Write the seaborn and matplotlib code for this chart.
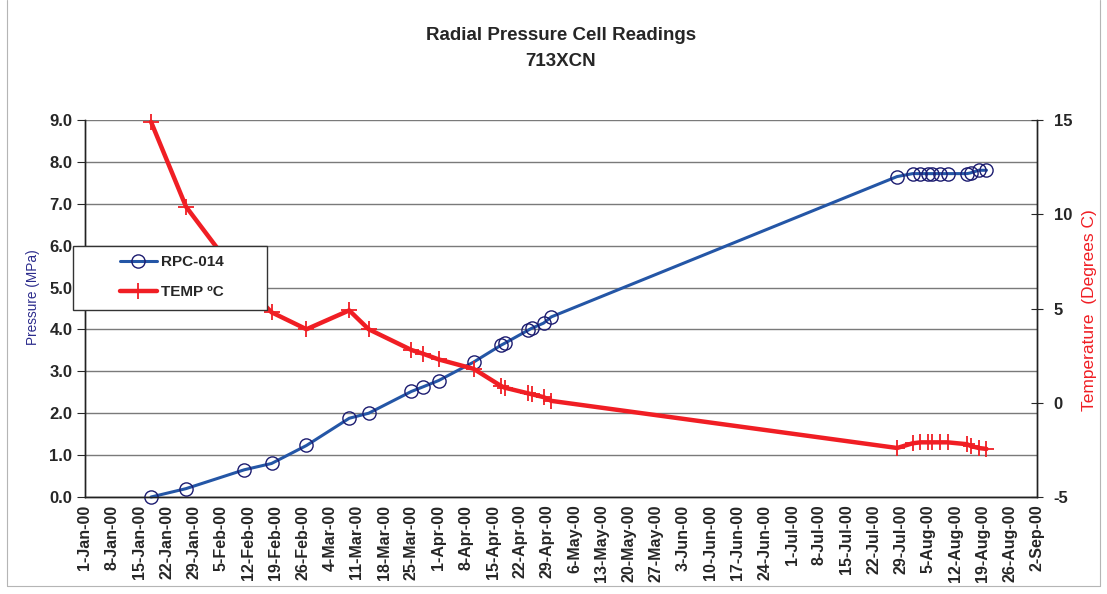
import matplotlib
matplotlib.use("Agg")
import matplotlib.pyplot as plt
import matplotlib.dates as mdates
from matplotlib.ticker import FuncFormatter
from matplotlib.patches import Rectangle
from matplotlib.lines import Line2D
import seaborn as sns
import pandas as pd

# ---------------- data ----------------
reading_dates = ["2000-01-18", "2000-01-27", "2000-02-11", "2000-02-18", "2000-02-27",
                 "2000-03-09", "2000-03-14", "2000-03-25", "2000-03-28", "2000-04-01",
                 "2000-04-10", "2000-04-17", "2000-04-18", "2000-04-24", "2000-04-25",
                 "2000-04-28", "2000-04-30", "2000-07-28", "2000-08-01", "2000-08-03",
                 "2000-08-05", "2000-08-06", "2000-08-08", "2000-08-10", "2000-08-15",
                 "2000-08-16", "2000-08-18", "2000-08-20"]
pressure_mpa = [0.0, 0.2, 0.65, 0.8, 1.23, 1.88, 2.0, 2.52, 2.63, 2.78,
                3.22, 3.62, 3.67, 3.98, 4.03, 4.15, 4.3, 7.65, 7.72, 7.72,
                7.72, 7.72, 7.72, 7.72, 7.72, 7.74, 7.8, 7.8]
temperature_c = [14.9, 10.4, 6.3, 4.8, 3.9, 4.9, 3.9, 2.8, 2.6, 2.3,
                 1.8, 0.9, 0.8, 0.5, 0.45, 0.3, 0.1, -2.4, -2.15, -2.1,
                 -2.1, -2.1, -2.1, -2.1, -2.2, -2.3, -2.4, -2.45]
series_names = ["RPC-014", "TEMP \u00baC"]
title_lines = ["Radial Pressure Cell Readings", "713XCN"]
x_start, x_end = "2000-01-01", "2000-09-02"
pressure_ticks = [0, 1, 2, 3, 4, 5, 6, 7, 8, 9]
temp_ticks = [-5, 0, 5, 10, 15]

df = pd.DataFrame({"date": pd.to_datetime(reading_dates),
                   "pressure": pressure_mpa,
                   "temp": temperature_c})

# ---------------- style ----------------
sns.set_style("white")
plt.rcParams["font.family"] = ["Liberation Sans", "DejaVu Sans"]
plt.rcParams["axes.unicode_minus"] = False

BLUE = "#2456a6"
NAVY = "#1c1c70"
RED = "#f01e24"

W, H = 1107, 594
fig = plt.figure(figsize=(W / 100, H / 100), dpi=100)
L, R, T, B = 85, 1037, 120, 497
ax = fig.add_axes([L / W, 1 - B / H, (R - L) / W, (B - T) / H])
ax2 = ax.twinx()

sns.lineplot(data=df, x="date", y="pressure", ax=ax, color=BLUE, lw=2.2,
             marker="o", markersize=9.5, mfc="none", mec=NAVY, mew=1.0,
             sort=False, legend=False, zorder=3, clip_on=False)
sns.lineplot(data=df, x="date", y="temp", ax=ax2, color=RED, lw=3.2,
             marker="+", markersize=11, mec=RED, mew=1.3,
             sort=False, legend=False, zorder=3, clip_on=False)

# x axis
ax.set_xlim(pd.Timestamp(x_start), pd.Timestamp(x_end))
week_ticks = pd.date_range(x_start, x_end, freq="7D")
ax.set_xticks(week_ticks)
ax.xaxis.set_major_formatter(FuncFormatter(
    lambda v, pos: (lambda d: f"{d.day}-{d.strftime('%b')}-{d.strftime('%y')}")(mdates.num2date(v))))
for lab in ax.get_xticklabels():
    lab.set_rotation(90)
    lab.set_fontsize(11.5)
    lab.set_fontweight("bold")
ax.tick_params(axis="x", direction="inout", length=7, width=0.8, pad=2)

# left axis
ax.set_ylim(0, 9)
ax.set_yticks(pressure_ticks)
ax.yaxis.set_major_formatter(FuncFormatter(lambda v, pos: f"{v:.1f}"))
ax.tick_params(axis="y", direction="out", length=6, width=0.8, labelsize=12, pad=3)
for lab in ax.get_yticklabels():
    lab.set_fontweight("bold")
ax.yaxis.grid(True, color="#7a7a7a", lw=1.0)
ax.xaxis.grid(False)
ax.set_xlabel("")
ax.set_ylabel("Pressure (MPa)", color="#2b2b8c", fontsize=9.8)
ax.yaxis.set_label_coords((40 - L) / (R - L), (B - 297) / (B - T))

# right axis
ax2.set_ylim(-5, 15)
ax2.set_yticks(temp_ticks)
ax2.tick_params(axis="y", direction="inout", length=8, width=0.8, labelsize=12, pad=8)
for lab in ax2.get_yticklabels():
    lab.set_fontweight("bold")
ax2.set_ylabel("Temperature  (Degrees C)", color=RED, fontsize=12.5)
ax2.yaxis.set_label_coords((1082 - L) / (R - L), (B - 310) / (B - T))
ax2.grid(False)

for a in (ax, ax2):
    a.spines["top"].set_visible(False)
    for s in ("left", "right", "bottom"):
        a.spines[s].set_color("#222222")
        a.spines[s].set_linewidth(1.0)
    a.patch.set_visible(False)

# titles
cx = (L + R) / 2 / W
fig.text(cx, 1 - 35 / H, title_lines[0], ha="center", va="center",
         fontsize=13.5, fontweight="bold")
fig.text(cx, 1 - 62 / H, title_lines[1], ha="center", va="center",
         fontsize=13.5, fontweight="bold")

# legend box
aw, ah = R - L, B - T
box = Rectangle(((73 - L) / aw, (B - 310) / ah), (267 - 73) / aw, (310 - 246) / ah,
                transform=ax2.transAxes, facecolor="white", edgecolor="#333333",
                lw=1.0, clip_on=False, zorder=9)
ax2.add_patch(box)
handles = [Line2D([], [], color=BLUE, lw=2.2, marker="o", markersize=9.5, mfc="none",
                  mec=NAVY, mew=1.0),
           Line2D([], [], color=RED, lw=3.2, marker="+", markersize=11, mec=RED, mew=1.3)]
leg = ax2.legend(handles, series_names, loc="upper left",
                 bbox_to_anchor=((120 - L) / aw, (B - 255) / ah),
                 frameon=False, borderpad=0, borderaxespad=0, handlelength=2.4,
                 handletextpad=0.3, labelspacing=1.05, numpoints=1,
                 prop={"size": 11, "weight": "bold"})
leg.set_zorder(10)

# chart area border (left, right, bottom)
for xs, ys in (([7, 7], [0, 586]), ([1100, 1100], [0, 586]), ([7, 1100], [586, 586])):
    fig.add_artist(Line2D([x / W for x in xs], [1 - y / H for y in ys],
                          color="#b5b5b5", lw=0.8))

fig.savefig("out.png", dpi=100)
